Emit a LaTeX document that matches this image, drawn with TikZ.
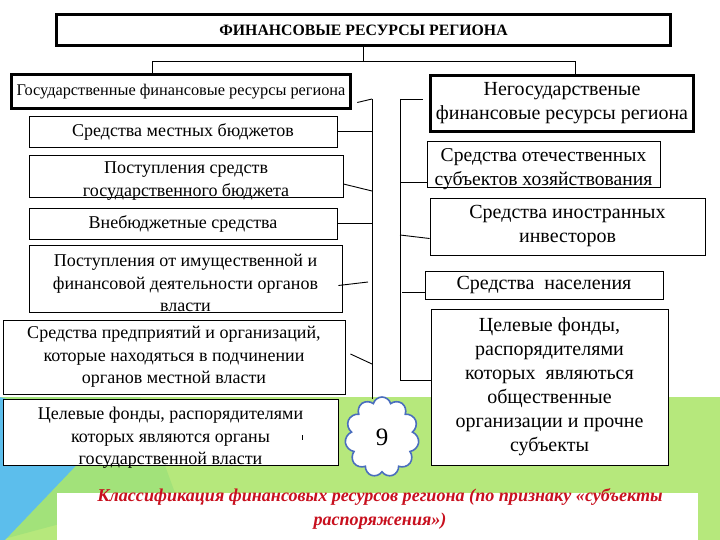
\documentclass[tikz,border=0pt]{standalone}
\usepackage{fontspec}
\setmainfont{Liberation Serif}
\usetikzlibrary{shapes.symbols}

\definecolor{slidegreen}{RGB}{182,232,124}
\definecolor{lightgreen}{RGB}{162,226,122}
\definecolor{slideblue}{RGB}{92,190,236}
\definecolor{cloudblue}{RGB}{74,110,190}
\definecolor{captionred}{RGB}{200,16,30}

\tikzset{
  box/.style={draw, fill=white, line width=0.9pt, align=center, inner sep=1pt,
    font=\fontsize{18}{22.5}\selectfont},
  rbox/.style={box, font=\fontsize{20}{24}\selectfont},
  thickbox/.style={box, line width=3.5pt},
  txt/.style={align=center, inner sep=0pt, font=\fontsize{18}{22.5}\selectfont},
  rtxt/.style={txt, font=\fontsize{19.6}{24}\selectfont},
  tick/.style={line width=0.9pt}
}

\begin{document}
\begin{tikzpicture}[x=1pt, y=-1pt]
\useasboundingbox (0,0) rectangle (720,540);

% slide background
\fill[slidegreen] (0,397) rectangle (720,540);
\fill[lightgreen] (0,397) -- (140,397) -- (175,493) -- (0,540) -- cycle;
\fill[slideblue] (0,397) -- (110,430) -- (5,540) -- (0,540) -- cycle;
\fill[white] (57,493) rectangle (698,540);

% head
\node[thickbox, minimum width=614, minimum height=31,
  font=\fontsize{15.8}{18}\selectfont\bfseries] (head) at (363.5,30) {ФИНАНСОВЫЕ РЕСУРСЫ РЕГИОНА};

% left column
\node[thickbox, minimum width=339, minimum height=34,
  font=\fontsize{16.3}{20}\selectfont] (gov) at (181,91.5) {Государственные финансовые ресурсы региона};
\node[box, minimum width=308, minimum height=31] (loc) at (183,131.5) {Средства местных бюджетов};
\node[box, minimum width=314, minimum height=42] (stb) at (186,176) {};
\node[txt] (stbt) at (186,181) {Поступления средств\\государственного бюджета};
\node[box, minimum width=308, minimum height=31] (ext) at (183,223.5) {Внебюджетные средства};
\node[box, minimum width=313, minimum height=67] (prop) at (185.5,278.5) {};
\node[txt] (propt) at (185.5,283) {Поступления от имущественной и\\финансовой деятельности органов\\власти};
\node[box, minimum width=342, minimum height=74] (ent) at (174,357) {Средства предприятий и организаций,\\которые находяться в подчинении\\органов местной власти};
\node[box, minimum width=335, minimum height=66] (tgt) at (170.5,432) {};
\node[txt] (tgtt) at (170.5,438) {Целевые фонды, распорядителями\\которых являются органы\\государственной власти};
\draw[tick] (302,435) -- (302,440);

% right column
\node[rbox, line width=3.5pt, minimum width=263, minimum height=56] (nongov) at (562,103.5) {Негосударственые\\финансовые ресурсы региона};
\node[rbox, minimum width=233, minimum height=46] (dom) at (543.5,164) {};
\node[rtxt] (domt) at (543.5,169) {Средства отечественных\\субъектов хозяйствования};
\node[rbox, minimum width=275, minimum height=57] (forn) at (567.5,226.5) {Средства иностранных\\инвесторов};
\node[rbox, minimum width=238, minimum height=28] (pop) at (544,285) {Средства\ \ населения};
\node[rbox, minimum width=237, minimum height=156] (fund) at (549.5,387) {Целевые фонды,\\распорядителями\\которых\ \ являються\\общественные\\организации и прочне\\субъекты};

% page number
\node[cloud, cloud puffs=11, draw=cloudblue, line width=1.6pt, fill=white,
  minimum width=74, minimum height=80, font=\fontsize{25}{25}\selectfont] (num) at (382,437) {9};

% spines
\coordinate (ltop) at (372,99);
\coordinate (rtop) at (400,99);
\coordinate (rbot) at (400,380);
\draw[tick] (ltop) -- ([yshift=-3pt]ltop |- num.north);
\draw[tick] (rtop) -- (rbot);

% head to both groups
\draw[tick] (head.south) -- ++(0,14) coordinate (hj);
\draw[tick] ([xshift=-29pt]gov.north) |- (hj) -| ([xshift=13pt]nongov.north);

% left ticks
\draw[tick] ([xshift=5pt,yshift=-11pt]gov.east) -- (ltop);
\draw[tick] (loc.east) -- (loc.east -| ltop);
\draw[tick] ([yshift=-8pt]stb.east) -- (372,191);
\draw[tick] (ext.east) -- (ext.east -| ltop);
\draw[tick] ([xshift=-4pt,yshift=-7pt]prop.east) -- (368,282);
\draw[tick] ([xshift=5pt,yshift=3pt]ent.east) -- (372,364);

% right ticks
\draw[tick] (rtop) -- (423,99);
\draw[tick] (400,182) -- (dom.west |- 400,182);
\draw[tick] (400,235) -- ([yshift=-12pt]forn.west);
\draw[tick] (402,292) -- ([yshift=-7pt]pop.west);
\draw[tick] (rbot) -- (rbot -| fund.west);

% caption
\node[align=center, text=captionred, font=\fontsize{18.1}{24}\selectfont\bfseries\itshape] (cap) at (380,509)
  {Классификация финансовых ресурсов региона (по признаку «субъекты\\распоряжения»)};

\end{tikzpicture}
\end{document}
